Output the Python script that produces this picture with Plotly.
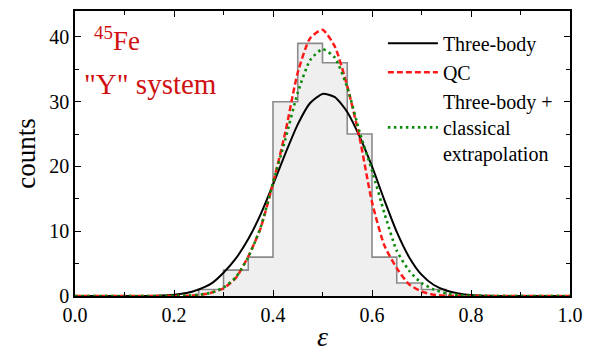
import plotly.graph_objects as go

# Histogram (bin edges and counts)
bin_edges = [0.25, 0.30, 0.35, 0.40, 0.45, 0.50, 0.55, 0.60, 0.65, 0.70, 0.75]
bin_counts = [1, 4, 6, 30, 39, 36, 25, 6, 2, 1]

# Curves
eps = [0.0, 0.05, 0.10, 0.125, 0.15, 0.175, 0.20, 0.225, 0.25, 0.275, 0.30, 0.325, 0.35,
       0.375, 0.40, 0.425, 0.45, 0.475, 0.50, 0.525, 0.55, 0.575, 0.60, 0.625,
       0.65, 0.675, 0.70, 0.725, 0.75, 0.775, 0.80, 0.825, 0.85, 0.875, 0.90, 0.95, 1.0]
three_body = [0, 0, 0, 0, 0.01, 0.06, 0.2, 0.45, 1.0, 1.9, 3.6, 5.8, 8.8,
              12.6, 17.2, 22.0, 26.5, 29.8, 31.2, 30.7, 28.4, 24.6, 20.0, 14.8,
              9.9, 6.0, 3.3, 1.7, 0.85, 0.4, 0.15, 0.05, 0.01, 0, 0, 0, 0]
qc = [0, 0, 0, 0, 0, 0, 0, 0.03, 0.15, 0.5, 1.2, 2.8, 6.1,
      10.5, 17.4, 25.3, 34.5, 39.8, 41.1, 38.5, 32.4, 24.4, 14.5, 7.8,
      4.3, 1.8, 0.7, 0.2, 0.05, 0.01, 0, 0, 0, 0, 0, 0, 0]
classical = [0, 0, 0, 0, 0, 0, 0.02, 0.06, 0.2, 0.5, 1.3, 2.9, 6.0,
             10.6, 17.5, 24.2, 31.4, 36.4, 38.1, 36.8, 32.2, 25.3, 19.4, 12.8,
             7.0, 3.9, 2.0, 1.0, 0.4, 0.15, 0.05, 0.01, 0, 0, 0, 0, 0]

x_ticks = [0.0, 0.2, 0.4, 0.6, 0.8, 1.0]
y_ticks = [0, 10, 20, 30, 40]

hist_x = [bin_edges[0]] + bin_edges
hist_y = [0] + bin_counts + [0]

serif = "Liberation Serif"

fig = go.Figure()
fig.add_trace(go.Scatter(
    x=hist_x, y=hist_y, mode="lines", line_shape="hv",
    line=dict(color="#8a8a8a", width=1.6), fill="tozeroy",
    fillcolor="#efefef", showlegend=False, hoverinfo="skip"))
fig.add_trace(go.Scatter(
    x=eps, y=three_body, mode="lines", line_shape="spline", line_smoothing=0.6,
    line=dict(color="black", width=2), name="Three-body"))
fig.add_trace(go.Scatter(
    x=eps, y=qc, mode="lines", line_shape="spline", line_smoothing=0.6,
    line=dict(color="#ff1a1a", width=2.5, dash="6px,3px"), name="QC"))
fig.add_trace(go.Scatter(
    x=eps, y=classical, mode="lines", line_shape="spline", line_smoothing=0.6,
    line=dict(color="#0a8a0a", width=2.6, dash="2.5px,3.5px"),
    name="Three-body +<br>classical<br>extrapolation"))

axis_common = dict(
    showline=True, linecolor="black", linewidth=1.5, mirror="allticks",
    ticks="inside", ticklen=6, tickwidth=1.3, tickcolor="black",
    showgrid=False, zeroline=False,
    tickfont=dict(family=serif, size=20, color="black"),
)
fig.update_xaxes(
    range=[0, 1], tickvals=x_ticks, ticktext=[f"{v:.1f}" for v in x_ticks],
    minor=dict(ticks="inside", ticklen=4, tickwidth=1.2, tickcolor="black", dtick=0.1, showgrid=False),
    title=dict(text="<i>ε</i>", font=dict(family=serif, size=28, color="black"), standoff=2),
    **axis_common)
fig.update_yaxes(
    range=[0, 44], tickvals=y_ticks, ticktext=[str(v) for v in y_ticks],
    minor=dict(ticks="inside", ticklen=4, tickwidth=1.2, tickcolor="black", dtick=5, showgrid=False),
    title=dict(text="counts", font=dict(family=serif, size=27, color="black"), standoff=6),
    **axis_common)

fig.add_annotation(xref="paper", yref="paper", x=0.035, y=0.90, xanchor="left", yanchor="middle",
                   text="<sup>45</sup>Fe", showarrow=False,
                   font=dict(family=serif, size=27, color="#d01010"))
fig.add_annotation(xref="paper", yref="paper", x=0.015, y=0.745, xanchor="left", yanchor="middle",
                   text="\"Y\" system", showarrow=False,
                   font=dict(family=serif, size=29, color="#d01010"))

fig.update_layout(
    width=592, height=357,
    font=dict(family=serif, color="black"),
    margin=dict(l=75, r=14, t=9, b=61),
    plot_bgcolor="white", paper_bgcolor="white",
    legend=dict(x=0.622, y=0.955, xanchor="left", yanchor="top",
                bgcolor="rgba(0,0,0,0)", borderwidth=0,
                font=dict(family=serif, size=20, color="black"),
                itemwidth=50, tracegroupgap=0),
    showlegend=True,
)
fig.write_html("out.html")
